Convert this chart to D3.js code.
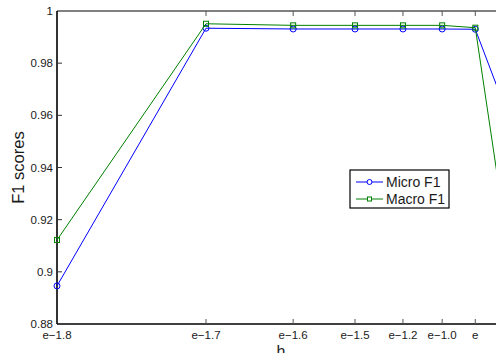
<!DOCTYPE html>
<html>
    <head>
        <script src="https://d3js.org/d3.v7.min.js"></script>
        <style>
            body { margin: 0; background: white; }
            svg { display: block; }
            text { font-family: "Liberation Sans", Arial, sans-serif; fill: #1a1a1a; }
        </style>
    </head>
<body>
    <div id="chart"></div>

    <script>
        const svgWidth = 496;
        const svgHeight = 353;

        // x positions sit on a log axis (1..8), labels as printed
        const xValues = [1, 2, 3, 4, 5, 6, 7, 8];
        const xTickValues = [1, 2, 3, 4, 5, 6, 7];
        const xTickLabels = ["e\u22121.8", "e\u22121.7", "e\u22121.6", "e\u22121.5", "e\u22121.2", "e\u22121.0", "e"];
        const microF1 = [0.8946, 0.9934, 0.9931, 0.9931, 0.9931, 0.9931, 0.9930, 0.964];
        const macroF1 = [0.9122, 0.9951, 0.9945, 0.9945, 0.9945, 0.9945, 0.9936, 0.9195];
        const yTicks = [0.88, 0.9, 0.92, 0.94, 0.96, 0.98, 1];
        const yTickLabels = ["0.88", "0.9", "0.92", "0.94", "0.96", "0.98", "1"];

        const svg = d3.select("#chart")
            .append("svg")
            .attr("width", svgWidth)
            .attr("height", svgHeight);

        const x = d3.scaleLog().domain([1, 8]).range([57, 504]);
        const y = d3.scaleLinear().domain([0.88, 1]).range([324, 11]);

        // box
        svg.append("line").attr("x1", 57).attr("x2", 504).attr("y1", y(1)).attr("y2", y(1))
            .attr("stroke", "black").attr("stroke-width", 1);
        svg.append("line").attr("x1", 57).attr("x2", 57).attr("y1", y(1)).attr("y2", y(0.88))
            .attr("stroke", "black").attr("stroke-width", 1.6);
        svg.append("line").attr("x1", 57).attr("x2", 504).attr("y1", y(0.88)).attr("y2", y(0.88))
            .attr("stroke", "black").attr("stroke-width", 1.6);

        // y ticks (inward)
        svg.selectAll(".ytick")
            .data(yTicks.slice(1, -1))
            .enter().append("line")
            .attr("x1", 57).attr("x2", 62)
            .attr("y1", d => y(d)).attr("y2", d => y(d))
            .attr("stroke", "#333").attr("stroke-width", 1);

        svg.selectAll(".ylabel")
            .data(yTicks)
            .enter().append("text")
            .attr("x", 53)
            .attr("y", d => y(d))
            .attr("dy", "0.35em")
            .attr("text-anchor", "end")
            .attr("font-size", "11.5px")
            .text((d, i) => yTickLabels[i]);

        // x ticks, top and bottom (inward)
        svg.selectAll(".xtick-b")
            .data(xTickValues.slice(1))
            .enter().append("line")
            .attr("x1", d => x(d)).attr("x2", d => x(d))
            .attr("y1", y(0.88)).attr("y2", y(0.88) - 5)
            .attr("stroke", "#555").attr("stroke-width", 1);

        svg.selectAll(".xtick-t")
            .data(xTickValues.slice(1))
            .enter().append("line")
            .attr("x1", d => x(d)).attr("x2", d => x(d))
            .attr("y1", y(1)).attr("y2", y(1) + 5)
            .attr("stroke", "#555").attr("stroke-width", 1);

        svg.selectAll(".xlabel")
            .data(xTickValues)
            .enter().append("text")
            .attr("x", d => x(d))
            .attr("y", 338.5)
            .attr("text-anchor", "middle")
            .attr("font-size", "11.5px")
            .text((d, i) => xTickLabels[i]);

        // axis titles
        svg.append("text")
            .attr("x", 281)
            .attr("y", 357)
            .attr("text-anchor", "middle")
            .attr("font-size", "16px")
            .text("h");

        svg.append("text")
            .attr("transform", "translate(23.5,167.5) rotate(-90)")
            .attr("text-anchor", "middle")
            .attr("font-size", "16.5px")
            .text("F1 scores");

        // series
        const series = [
            {name: "Micro F1", values: microF1, color: "#0000ff", marker: "circle"},
            {name: "Macro F1", values: macroF1, color: "#008000", marker: "square"}
        ];

        const line = d3.line()
            .x((d, i) => x(xValues[i]))
            .y(d => y(d));

        series.forEach(s => {
            svg.append("path")
                .attr("fill", "none")
                .attr("stroke", s.color)
                .attr("stroke-width", 1)
                .attr("d", line(s.values));

            if (s.marker === "circle") {
                svg.selectAll(null)
                    .data(s.values)
                    .enter().append("circle")
                    .attr("cx", (d, i) => x(xValues[i]))
                    .attr("cy", d => y(d))
                    .attr("r", 3)
                    .attr("fill", "none")
                    .attr("stroke", s.color);
            } else {
                svg.selectAll(null)
                    .data(s.values)
                    .enter().append("rect")
                    .attr("x", (d, i) => x(xValues[i]) - 2.5)
                    .attr("y", d => y(d) - 2.5)
                    .attr("width", 5)
                    .attr("height", 5)
                    .attr("fill", "none")
                    .attr("stroke", s.color);
            }
        });

        // legend
        const legend = svg.append("g").attr("transform", "translate(350,170)");
        legend.append("rect")
            .attr("width", 99).attr("height", 38)
            .attr("fill", "white").attr("stroke", "black").attr("stroke-width", 1.2);

        series.forEach((s, i) => {
            const ly = 12 + i * 17;
            legend.append("line")
                .attr("x1", 6).attr("x2", 33).attr("y1", ly).attr("y2", ly)
                .attr("stroke", s.color).attr("stroke-width", 1);
            if (s.marker === "circle") {
                legend.append("circle").attr("cx", 19.5).attr("cy", ly).attr("r", 2.5)
                    .attr("fill", "white").attr("stroke", s.color);
            } else {
                legend.append("rect").attr("x", 17.5).attr("y", ly - 2).attr("width", 4).attr("height", 4)
                    .attr("fill", "white").attr("stroke", s.color);
            }
            legend.append("text")
                .attr("x", 36).attr("y", ly).attr("dy", "0.35em")
                .attr("font-size", "14px")
                .text(s.name);
        });
    </script>
</body>
</html>
